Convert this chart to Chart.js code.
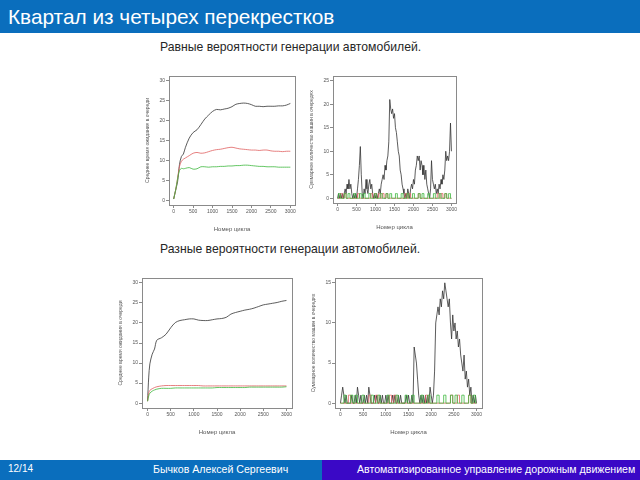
<!DOCTYPE html>
<html>
<head>
<meta charset="utf-8">
<script src="https://cdn.jsdelivr.net/npm/chart.js@4.4.0/dist/chart.umd.min.js"></script>
<style>
body{margin:0;width:640px;height:480px;position:relative;overflow:hidden;background:#fff;font-family:"Liberation Sans",Arial,sans-serif}
#top{position:absolute;left:0;top:0;width:640px;height:33px;background:#0a6ebd;color:#fff;font-size:20.8px;line-height:33px;padding-left:8px;box-sizing:border-box}
.sub{position:absolute;left:160px;font-size:12.2px;color:#262626;white-space:nowrap}
canvas{position:absolute}
.foot{position:absolute;top:460px;height:20px;color:#fff;font-size:10.6px;line-height:18px;white-space:nowrap}
</style>
</head>
<body>
<div id="top">Квартал из четырех перекрестков</div>
<div class="sub" style="top:40px">Равные вероятности генерации автомобилей.</div>
<div class="sub" style="top:242px">Разные вероятности генерации автомобилей.</div>
<canvas id="c1"></canvas>
<canvas id="c2"></canvas>
<canvas id="c3"></canvas>
<canvas id="c4"></canvas>
<div class="foot" style="left:0;width:322px;background:#0a6ebd">
  <span style="position:absolute;left:8px;font-size:10px">12/14</span>
  <span style="position:absolute;left:153px">Бычков Алексей Сергеевич</span>
</div>
<div class="foot" style="left:322px;width:318px;background:#3a08c6">
  <span style="position:absolute;left:35px">Автоматизированное управление дорожным движением</span>
</div>
<script>
//tick labels
var xTicks = [0, 500, 1000, 1500, 2000, 2500, 3000];
var yTicks30 = [0, 5, 10, 15, 20, 25, 30];
var yTicks25 = [0, 5, 10, 15, 20, 25];
var yTicks15 = [0, 5, 10, 15];

//chart 1: equal probabilities, mean waiting time
var cycles1 = [0,50,100,150,200,250,300,400,500,600,700,800,900,1000,1100,1200,1300,1400,1500,1600,1700,1800,1900,2000,2100,2200,2300,2400,2500,2600,2700,2800,2900,3000];
var black1 = [0.3,2.5,4.6,9,11,11.6,13.2,15.6,17,17.7,19,20.4,21.4,22.3,22.8,22.7,22.9,23.1,23.5,24.1,24.3,24.4,24.3,24,23.6,23.6,23.5,23.6,23.6,23.6,23.7,23.7,23.9,24.3];
var red1 = [0.3,2.5,5.5,8.5,9.8,10.3,10.6,11.2,11.8,12,11.8,11.9,12.2,12.5,12.7,12.8,13,13.2,13.3,13.1,12.9,12.8,12.7,12.6,12.6,12.5,12.6,12.6,12.4,12.3,12.3,12.2,12.3,12.3];
var green1 = [0.3,2.5,5.3,7.5,8,7.9,8,8.2,7.8,7.9,8.4,8.4,8.3,8.4,8.4,8.5,8.5,8.6,8.6,8.7,8.7,8.8,8.8,8.7,8.6,8.5,8.5,8.4,8.4,8.4,8.3,8.3,8.3,8.3];

//chart 3: different probabilities, mean waiting time
var cycles3 = [0,25,50,100,150,200,300,400,500,600,700,800,900,1000,1100,1200,1300,1400,1500,1600,1700,1800,1900,2000,2100,2200,2300,2400,2500,2600,2700,2800,2900,3000];
var black3 = [0.5,6.5,9.8,12.2,13.5,15.7,16.3,17.2,18.8,20.1,20.6,20.8,21,21,20.7,20.6,20.6,20.8,21,21.1,21.4,22.2,22.6,22.9,23.2,23.4,23.7,24.1,24.5,24.7,24.9,25.1,25.4,25.6];
var red3 = [0.5,2.5,3.2,3.6,3.9,4.1,4.3,4.4,4.4,4.4,4.4,4.4,4.4,4.4,4.4,4.3,4.3,4.3,4.3,4.3,4.3,4.3,4.3,4.3,4.3,4.3,4.3,4.3,4.3,4.3,4.3,4.3,4.3,4.3];
var green3 = [0.5,1.8,2.5,3,3.3,3.5,3.7,3.7,3.7,3.8,3.8,3.8,3.8,3.8,3.8,3.8,3.8,3.8,3.9,3.9,3.9,3.9,3.9,3.9,3.9,4,4,4,4,4,4,4,4,4.1];

//chart 2 and 4: total cars in queues, black every 25 cycles, red/green every 50
var cycles25 = [];
for (var i = 0; i <= 3000; i += 25) cycles25.push(i);
var cycles50 = [];
for (var i = 0; i <= 3000; i += 50) cycles50.push(i);

var black2 = [0,1,0,1,0,1,0,1,2,1,
  3,2,4,2,3,1,0,1,0,1,
  0,2,4,7,11,5,1,0,2,1,
  4,2,1,3,4,2,3,1,0,1,
  0,1,0,1,2,1,3,4,5,4,
  7,6,8,9,12,21,19,18,19,17,
  18,15,14,12,10,9,6,5,3,2,
  1,0,1,0,2,1,0,2,3,2,
  4,3,6,7,9,8,9,6,8,7,
  5,7,4,6,3,2,1,0,2,8,
  4,3,2,3,1,2,1,3,2,4,
  3,5,4,6,10,8,9,8,10,16,
  10];
var red2 = [0,0,1,0,1,0,0,0,0,0, 0,1,0,0,0,0,0,0,1,0, 1,0,1,0,1,0,1,0,0,0, 0,0,0,0,0,0,1,0,1,0, 0,0,0,1,0,0,0,0,0,0, 0,0,0,1,0,1,0,1,0,0, 0];
var green2 = [0,1,0,0,1,0,1,0,0,1, 0,0,1,0,1,0,0,1,0,0, 1,0,0,1,0,0,1,0,1,0, 0,1,0,0,1,0,0,1,0,0, 1,0,0,1,0,1,0,0,1,0, 0,1,0,0,1,0,0,1,0,1, 0];

var black4 = [0,1,2,1,0,1,0,0,0,0,
  1,0,0,1,0,2,1,0,1,0,
  0,1,0,1,0,2,1,0,0,0,
  1,0,1,0,0,1,0,1,0,0,
  1,0,1,0,0,0,1,0,1,0,
  0,1,0,1,0,0,0,0,1,0,
  1,0,0,1,0,7,6,5,3,1,
  0,1,0,1,0,1,0,1,0,2,
  1,0,1,4,10,11,12,11,13,12,
  14,13,15,14,13,12,13,10,8,11,
  9,10,8,9,7,8,6,5,4,6,
  3,4,2,3,1,2,0,1,0,1,
  0];
var red4 = [0,0,0,0,1,0,0,0,0,0, 0,0,0,1,0,0,1,0,0,0, 0,0,1,0,1,0,0,0,0,0, 0,0,0,0,0,0,0,0,1,0, 0,0,0,0,0,0,0,0,0,1, 0,0,1,0,0,0,0,1,0,0, 0];
var green4 = [0,0,1,0,0,1,0,1,0,0, 1,0,0,0,1,0,0,1,0,0, 0,1,0,0,0,1,0,0,0,1, 0,0,1,0,0,0,1,0,0,1, 0,0,0,1,0,0,1,0,0,1, 0,1,0,0,1,0,0,1,0,1, 0];

//pairs x and y arrays into points
function pts(xs, ys) {
  return xs.map(function (x, i) { return {x: x, y: ys[i]}; });
}

//plot frame like in R
var framePlugin = {
  id: 'frame',
  afterDraw: function (chart) {
    var a = chart.chartArea, ctx = chart.ctx;
    ctx.save();
    ctx.strokeStyle = '#8a8a8a';
    ctx.lineWidth = 1;
    ctx.strokeRect(a.left + 0.5, a.top + 0.5, a.right - a.left, a.bottom - a.top);
    ctx.restore();
  }
};

function line(data, color, order, tension, stepped) {
  return {data: data, borderColor: color, borderWidth: 0.8, pointRadius: 0,
          tension: tension, order: order, fill: false, stepped: stepped || false};
}

//box = plot area on the page
function makeChart(id, box, datasets, yMin, yMax, yTicks, yTitle) {
  var cv = document.getElementById(id);
  var padL = 24, padT = 3, padR = 4, padB = 28;
  cv.style.left = (box.l - padL) + 'px';
  cv.style.top = (box.t - padT) + 'px';
  cv.width = box.r - box.l + padL + padR;
  cv.height = box.b - box.t + padT + padB;
  var tickFont = {size: 5, family: 'Liberation Sans'};
  new Chart(cv, {
    type: 'line',
    data: {datasets: datasets},
    plugins: [framePlugin],
    options: {
      responsive: false,
      animation: false,
      layout: {padding: {top: padT, right: padR, left: 0, bottom: 0}},
      plugins: {legend: {display: false}, tooltip: {enabled: false}},
      scales: {
        x: {
          type: 'linear', min: -120, max: 3120,
          afterBuildTicks: function (s) { s.ticks = xTicks.map(function (v) { return {value: v}; }); },
          afterFit: function (s) { s.height = padB; },
          grid: {display: true, drawOnChartArea: false, tickLength: 3, color: '#8a8a8a'},
          border: {display: false},
          ticks: {font: tickFont, color: '#555', padding: 1, maxRotation: 0, autoSkip: false,
                  callback: function (v) { return String(v); }},
          title: {display: true, text: 'Номер цикла', font: {size: 6, family: 'Liberation Sans'}, color: '#555', padding: 0}
        },
        y: {
          min: yMin, max: yMax,
          afterBuildTicks: function (s) { s.ticks = yTicks.map(function (v) { return {value: v}; }); },
          afterFit: function (s) { s.width = padL; },
          grid: {display: true, drawOnChartArea: false, tickLength: 3, color: '#8a8a8a'},
          border: {display: false},
          ticks: {font: tickFont, color: '#555', padding: 1, autoSkip: false,
                  callback: function (v) { return String(v); }},
          title: {display: true, text: yTitle, font: {size: 5, family: 'Liberation Sans'}, color: '#555', padding: 0}
        }
      }
    }
  });
}

var waitTitle = 'Среднее время ожидания в очереди';
var carsTitle = 'Суммарное количество машин в очередях';

makeChart('c1', {l: 169, t: 75, r: 295, b: 205}, [
  line(pts(cycles1, black1), '#333333', 2, 0.3),
  line(pts(cycles1, red1), '#e06060', 1, 0.3),
  line(pts(cycles1, green1), '#3cb83c', 0, 0.3)
], -1.2, 31.2, yTicks30, waitTitle);

makeChart('c2', {l: 333, t: 75, r: 456, b: 203}, [
  line(pts(cycles25, black2), '#333333', 2, 0),
  line(pts(cycles50, red2), '#e06060', 1, 0, 'middle'),
  line(pts(cycles50, green2), '#3cb83c', 0, 0, 'middle')
], -1, 26, yTicks25, carsTitle);

makeChart('c3', {l: 142, t: 277, r: 292, b: 408}, [
  line(pts(cycles3, black3), '#333333', 2, 0.3),
  line(pts(cycles3, red3), '#e06060', 1, 0.3),
  line(pts(cycles3, green3), '#3cb83c', 0, 0.3)
], -1.2, 31.2, yTicks30, waitTitle);

makeChart('c4', {l: 335, t: 277, r: 482, b: 408}, [
  line(pts(cycles25, black4), '#333333', 2, 0),
  line(pts(cycles50, red4), '#e06060', 1, 0, 'middle'),
  line(pts(cycles50, green4), '#3cb83c', 0, 0, 'middle')
], -0.6, 15.6, yTicks15, carsTitle);
</script>
</body>
</html>
